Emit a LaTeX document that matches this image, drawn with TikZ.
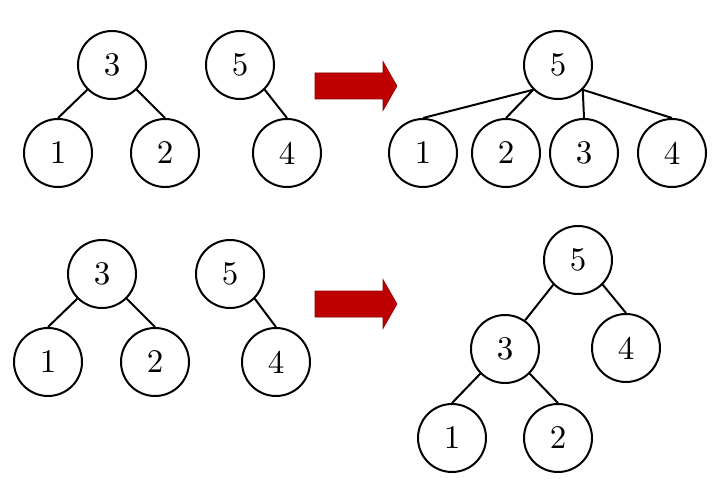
\documentclass[tikz,border=0pt]{standalone}
\usepackage{fontspec}
\setmainfont{lmroman10-regular}[Extension=.otf]
\usepackage{tikz}

\begin{document}
\begin{tikzpicture}[
  x=1pt, y=-1pt,
  every node/.style={font=\fontsize{33}{36}\selectfont},
  heapnode/.style={circle, draw, line width=2pt, minimum size=68pt, inner sep=0pt},
  link/.style={draw, line width=2pt},
  mergearrow/.style={fill=red!75!black, draw=red!55!black, line width=0.6pt}]
  \useasboundingbox (0,0) rectangle (723,500);

  % top row, before
  \node[heapnode] (a3) at (112,65) {3};
  \node[heapnode] (a1) at (58,153) {1};
  \node[heapnode] (a2) at (165,153) {2};
  \node[heapnode] (a5) at (240,65) {5};
  \node[heapnode] (a4) at (287,153) {4};
  \draw[link] (a3.south west) -- (a1.north);
  \draw[link] (a3.south east) -- (a2.north);
  \draw[link] (a5.south east) -- (a4.north);

  % top row, after
  \node[heapnode] (b5) at (558,65) {5};
  \node[heapnode] (b1) at (423,153) {1};
  \node[heapnode] (b2) at (506,153) {2};
  \node[heapnode] (b3) at (584,153) {3};
  \node[heapnode] (b4) at (672,153) {4};
  \draw[link] (b5.south west) -- (b1.north);
  \draw[link] (b5.south west) -- (b2.north);
  \draw[link] (b5.south east) -- (b3.north);
  \draw[link] (b5.south east) -- (b4.north);

  % bottom row, before
  \node[heapnode] (c3) at (102,274) {3};
  \node[heapnode] (c1) at (48,362) {1};
  \node[heapnode] (c2) at (155,362) {2};
  \node[heapnode] (c5) at (230,274) {5};
  \node[heapnode] (c4) at (276,362) {4};
  \draw[link] (c3.south west) -- (c1.north);
  \draw[link] (c3.south east) -- (c2.north);
  \draw[link] (c5.south east) -- (c4.north);

  % bottom row, after
  \node[heapnode] (d5) at (578,260) {5};
  \node[heapnode] (d3) at (505,349) {3};
  \node[heapnode] (d4) at (626,348) {4};
  \node[heapnode] (d1) at (452,438) {1};
  \node[heapnode] (d2) at (558,438) {2};
  \draw[link] (d5.south west) -- (d3.55);
  \draw[link] (d5.south east) -- (d4.north);
  \draw[link] (d3.south west) -- (d1.north);
  \draw[link] (d3.south east) -- (d2.north);

  % arrows
  \foreach \y in {86,304}
    \path[mergearrow] (315,\y-13) -- (383,\y-13) -- (383,\y-24.5) -- (397,\y)
      -- (383,\y+24.5) -- (383,\y+13) -- (315,\y+13) -- cycle;
\end{tikzpicture}
\end{document}
